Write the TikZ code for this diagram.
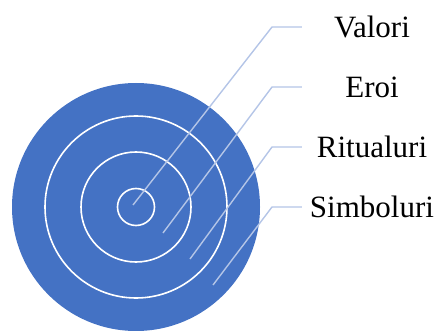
\documentclass[tikz,border=0pt]{standalone}
\usepackage{fontspec}
\setmainfont{Liberation Serif}
\definecolor{ringblue}{HTML}{4472C4}
\definecolor{leaderblue}{HTML}{B4C5E7}
\tikzset{
  ring/.style={draw=white, line width=1.6pt},
  leader/.style={draw=leaderblue, line width=1.4pt},
  layerlabel/.style={font=\fontsize{31}{31}\selectfont, minimum width=140pt, inner sep=0pt, anchor=center}
}

\begin{document}
\begin{tikzpicture}[x=1pt,y=-1pt]
\useasboundingbox (0,0) rectangle (439,331);
% onion diagram
\coordinate (c) at (136,207);
\fill[ringblue] (c) circle (124);
\draw[ring] (c) circle (91);
\draw[ring] (c) circle (55);
\draw[ring] (c) circle (18.5);
% labels
\node[layerlabel] (valori) at (372,27) {Valori};
\node[layerlabel] (eroi) at (372,87) {Eroi};
\node[layerlabel] (ritualuri) at (372,147) {Ritualuri};
\node[layerlabel] (simboluri) at (372,207) {Simboluri};
% leader lines
\coordinate (valoriend) at (133,205);
\coordinate (valorielbow) at (272,27);
\coordinate (eroiend) at (163,233);
\coordinate (eroielbow) at (272,87);
\coordinate (ritualuriend) at (190,259);
\coordinate (ritualurielbow) at (272,147);
\coordinate (simboluriend) at (213,285);
\coordinate (simbolurielbow) at (272,207);
\draw[leader] (valoriend) -- (valorielbow) -- (valori.west);
\draw[leader] (eroiend) -- (eroielbow) -- (eroi.west);
\draw[leader] (ritualuriend) -- (ritualurielbow) -- (ritualuri.west);
\draw[leader] (simboluriend) -- (simbolurielbow) -- (simboluri.west);
\end{tikzpicture}
\end{document}
